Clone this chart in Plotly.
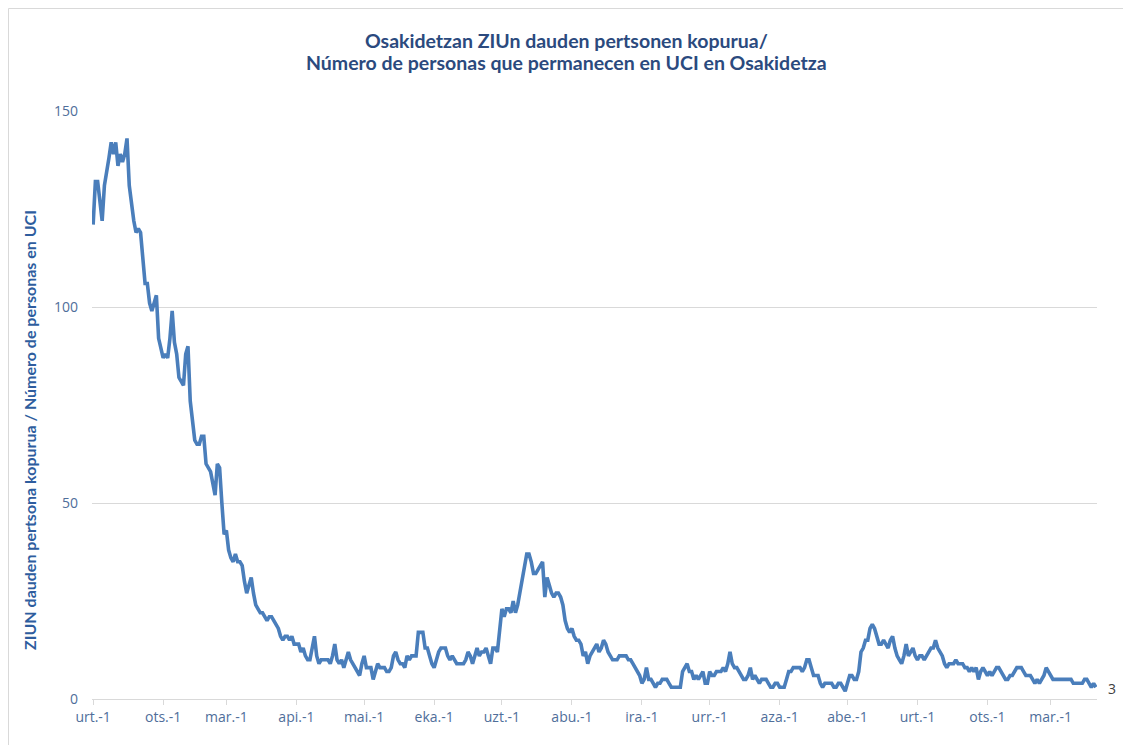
import pandas as pd
import plotly.graph_objects as go

# Daily number of people in ICU (Osakidetza), 2022-01-01 .. 2023-03-21
jan_2022 = [121, 132, 132, 126, 122, 131, 134, 138, 142, 139, 142, 136, 139, 137, 139, 143,
            131, 126, 122, 119, 120, 119, 112, 106, 106, 101, 99, 101, 103, 92, 89]
feb_2022 = [87, 88, 87, 92, 99, 91, 88, 82, 81, 80, 88, 90, 76, 70, 66, 65, 65, 67, 67, 60,
            59, 58, 55, 52, 60, 59, 50, 42]
mar_2022 = [43, 38, 36, 35, 37, 35, 35, 34, 30, 27, 29, 31, 27, 24, 23, 22, 22, 21, 20, 21,
            21, 20, 19, 18, 16, 15, 16, 16, 15, 16, 14]
apr_2022 = [14, 14, 12, 13, 11, 10, 10, 13, 16, 11, 9, 10, 10, 10, 10, 9, 11, 14, 10, 9,
            10, 8, 10, 12, 10, 9, 8, 7, 6, 9]
may_2022 = [11, 8, 8, 8, 5, 7, 9, 8, 8, 8, 7, 7, 8, 11, 12, 10, 9, 9, 8, 11, 10, 11, 11, 11,
            17, 17, 17, 13, 13, 11, 9]
jun_2022 = [8, 10, 12, 13, 13, 13, 11, 10, 11, 10, 9, 9, 9, 9, 10, 12, 11, 9, 11, 13, 11, 12,
            12, 13, 11, 9, 13, 13, 12, 18]
jul_2022 = [23, 21, 23, 23, 22, 25, 22, 24, 27, 31, 34, 37, 37, 35, 32, 32, 33, 34, 35, 26,
            31, 29, 27, 26, 27, 27, 26, 24, 20, 18, 17]
aug_2022 = [18, 16, 15, 15, 14, 11, 12, 9, 11, 12, 13, 14, 12, 13, 15, 14, 12, 11, 10, 10,
            10, 11, 11, 11, 11, 10, 10, 9, 8, 7, 6]
sep_2022 = [4, 5, 8, 5, 5, 4, 3, 4, 4, 5, 5, 5, 4, 3, 3, 3, 3, 3, 7, 8, 9, 7, 7, 5, 6, 5, 6,
            7, 4, 4]
oct_2022 = [7, 6, 6, 7, 7, 7, 8, 7, 9, 12, 9, 8, 8, 7, 6, 5, 5, 6, 8, 5, 6, 5, 4, 5, 5, 5, 4,
            3, 3, 4, 4]
nov_2022 = [3, 3, 3, 5, 7, 7, 8, 8, 8, 8, 7, 8, 10, 10, 8, 6, 6, 6, 4, 3, 4, 4, 4, 4, 3, 3,
            4, 4, 3, 2]
dec_2022 = [4, 6, 6, 5, 5, 7, 12, 13, 15, 15, 18, 19, 18, 16, 14, 14, 15, 14, 13, 15, 16,
            13, 11, 10, 9, 11, 14, 11, 12, 13, 11]
jan_2023 = [10, 11, 11, 10, 11, 12, 13, 13, 15, 13, 12, 11, 9, 8, 9, 9, 9, 10, 9, 9, 9, 8, 8,
            7, 8, 7, 8, 5, 7, 8, 7]
feb_2023 = [6, 7, 6, 7, 8, 8, 7, 6, 5, 5, 6, 6, 7, 8, 8, 8, 7, 6, 6, 6, 5, 4, 5, 4, 5, 6, 8, 7]
mar_2023 = [6, 5, 5, 5, 5, 5, 5, 5, 5, 5, 4, 4, 4, 4, 4, 5, 5, 4, 3, 4, 3]

start_date = "2022-01-01"
month_starts = pd.date_range("2022-01-01", "2023-03-01", freq="MS")
tick_labels = ["urt.-1", "ots.-1", "mar.-1", "api.-1", "mai.-1", "eka.-1", "uzt.-1",
               "abu.-1", "ira.-1", "urr.-1", "aza.-1", "abe.-1", "urt.-1", "ots.-1", "mar.-1"]
y_ticks = [0, 50, 100, 150]

title_line1 = "<b>Osakidetzan ZIUn dauden pertsonen kopurua/</b>"
title_line2 = "<b>Número de personas que permanecen en UCI en Osakidetza</b>"
y_title = "<b>ZIUN dauden pertsona kopurua / Número de personas en UCI</b>"

values = (jan_2022 + feb_2022 + mar_2022 + apr_2022 + may_2022 + jun_2022 + jul_2022 +
          aug_2022 + sep_2022 + oct_2022 + nov_2022 + dec_2022 + jan_2023 + feb_2023 + mar_2023)
dates = pd.date_range(start_date, periods=len(values), freq="D")

TITLE_COLOR = "#2b4a7e"
TICK_COLOR = "#4f6e9a"
GRID = "#d9d9d9"

fig = go.Figure()
fig.add_trace(go.Scatter(
    x=dates, y=values, mode="lines",
    line=dict(color="#4a7ebb", width=3.6),
    hoverinfo="x+y", showlegend=False,
))

# last-value label
fig.add_annotation(
    x=dates[-1], y=values[-1], text=str(values[-1]), showarrow=False,
    xanchor="left", xshift=10, yshift=-1,
    font=dict(family="Open Sans", size=14, color="#404040"),
)

# two-line title
fig.add_annotation(xref="paper", yref="paper", x=0.4726, y=1.1207,
                   xanchor="center", yanchor="middle", showarrow=False,
                   text=title_line1, font=dict(family="Lato", size=19.5, color=TITLE_COLOR))
fig.add_annotation(xref="paper", yref="paper", x=0.4726, y=1.0833,
                   xanchor="center", yanchor="middle", showarrow=False,
                   text=title_line2, font=dict(family="Lato", size=19.5, color=TITLE_COLOR))

# y axis title
fig.add_annotation(xref="paper", yref="paper", x=-0.0617, y=0.4575,
                   xanchor="center", yanchor="middle", showarrow=False, textangle=-90,
                   text=y_title, font=dict(family="Lato", size=16, color="#2e5d9e"))

# outer chart frame
fig.add_shape(type="rect", xref="paper", yref="paper",
              x0=-0.0831, x1=1.05, y0=-0.12, y1=1.1743,
              line=dict(color=GRID, width=1), layer="below")

fig.update_layout(
    width=1123, height=737,
    margin=dict(l=84, r=34, t=103, b=46),
    paper_bgcolor="white", plot_bgcolor="white",
    font=dict(family="Open Sans", size=14, color=TICK_COLOR),
)

fig.update_xaxes(
    type="date",
    range=["2021-12-31 12:00", "2023-03-21 12:00"],
    tickvals=month_starts, ticktext=tick_labels,
    showgrid=False, showline=True, linecolor=GRID, linewidth=1,
    ticks="outside", ticklen=5, tickcolor=GRID,
    tickfont=dict(family="Open Sans", size=14, color=TICK_COLOR),
    zeroline=False,
)
fig.update_yaxes(
    range=[0, 150], tickvals=y_ticks,
    showgrid=True, gridcolor=GRID, gridwidth=1,
    zeroline=False, showline=False, ticks="",
    ticklabelstandoff=13,
    tickfont=dict(family="Open Sans", size=14, color=TICK_COLOR),
)

fig.write_html("out.html")
